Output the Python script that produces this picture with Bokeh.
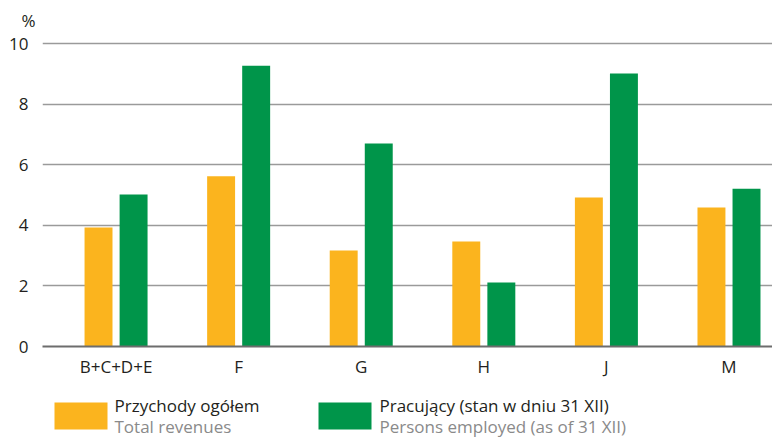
from bokeh.plotting import figure
from bokeh.models import ColumnDataSource, FixedTicker, Range1d, Title
from bokeh.layouts import column
from bokeh.transform import dodge
from bokeh.core.properties import value
from bokeh.embed import file_html
from bokeh.resources import INLINE

# ---- data ----
categories = ["B+C+D+E", "F", "G", "H", "J", "M"]
revenues = [3.93, 5.62, 3.17, 3.47, 4.92, 4.59]
employed = [5.02, 9.27, 6.70, 2.11, 9.01, 5.21]
y_ticks = [0, 2, 4, 6, 8, 10]
legend_pl = ["Przychody ogółem", "Pracujący (stan w dniu 31 XII)"]
legend_en = ["Total revenues", "Persons employed (as of 31 XII)"]

ORANGE = "#FBB41E"
GREEN = "#00954A"
FONT = "Open Sans"

src = ColumnDataSource(dict(x=list(range(len(categories))), rev=revenues, emp=employed))

x_start, x_end = -0.6, 5.355
p = figure(width=772, height=386, output_backend="svg", toolbar_location=None,
           x_range=Range1d(x_start, x_end), y_range=Range1d(0, 10.3),
           min_border_left=42, min_border_right=0, min_border_top=34, min_border_bottom=40)
p.outline_line_color = None
p.background_fill_color = "white"

p.add_layout(Title(text="%", align="left", offset=-21, standoff=6,
                   text_font=FONT, text_font_size="17px", text_font_style="normal",
                   text_color="#231f20"), "above")

p.vbar(x=dodge("x", -0.143, range=p.x_range), top="rev", width=0.228, source=src,
       fill_color=ORANGE, line_color=None)
p.vbar(x=dodge("x", 0.143, range=p.x_range), top="emp", width=0.228, source=src,
       fill_color=GREEN, line_color=None)

# axes
p.xaxis.ticker = FixedTicker(ticks=list(range(len(categories))))
p.xaxis.major_label_overrides = {i: c for i, c in enumerate(categories)}
p.yaxis.ticker = FixedTicker(ticks=y_ticks)
for ax in (p.xaxis[0], p.yaxis[0]):
    ax.major_tick_line_color = None
    ax.minor_tick_line_color = None
    ax.major_label_text_font = FONT
    ax.major_label_text_font_size = "17px"
    ax.major_label_text_color = "#231f20"
    ax.major_label_standoff = 8
p.yaxis.axis_line_color = None
p.xaxis.axis_line_color = "#6d6d6d"
p.xaxis.axis_line_width = 2
p.xaxis.major_label_standoff = 2

p.xgrid.grid_line_color = None
p.ygrid.grid_line_color = "#9a9a9a"
p.ygrid.grid_line_width = 1.4

# ---- legend panel (frame aligned with the chart frame: x from 42 to 772 px) ----
leg = figure(width=772, height=51, output_backend="svg", toolbar_location=None,
             x_range=Range1d(42, 772), y_range=Range1d(0, 51),
             min_border_left=42, min_border_right=0, min_border_top=0, min_border_bottom=0,
             x_axis_location=None, y_axis_location=None)
leg.outline_line_color = None
leg.xgrid.visible = False
leg.ygrid.visible = False

sq_x = [80.5, 344.5]
txt_x = [114, 379]
leg.rect(x=sq_x, y=[21.5, 21.5], width=53, height=27,
         fill_color=[ORANGE, GREEN], line_color=None)
leg.text(x=txt_x, y=[32, 32], text=legend_pl, text_font=value(FONT),
         text_font_size="17px", text_color="#231f20", text_baseline="middle")
leg.text(x=txt_x, y=[11, 11], text=legend_en, text_font=value(FONT),
         text_font_size="17px", text_color="#8a8a8a", text_baseline="middle")

layout = column(p, leg, spacing=0)
open("out.html", "w").write(file_html(layout, INLINE))
